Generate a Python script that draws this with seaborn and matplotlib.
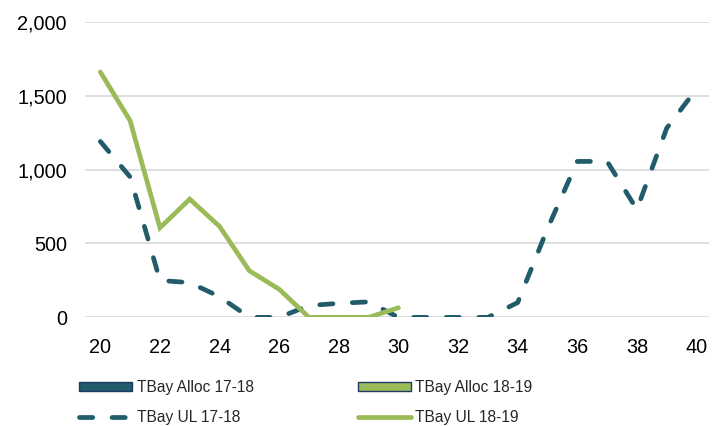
import numpy as np
import pandas as pd
import matplotlib
matplotlib.use("Agg")
import matplotlib.pyplot as plt
from matplotlib.patches import Patch
from matplotlib.lines import Line2D
import seaborn as sns

# Week numbers and usage-level series
weeks_17_18 = list(range(20, 41))
ul_17_18 = [1190, 950, 250, 235, 140, 0, 0, 80, 95, 105, 0,
            0, 0, 0, 100, 600, 1055, 1055, 730, 1280, 1545]
weeks_18_19 = list(range(20, 31))
ul_18_19 = [1660, 1330, 606, 800, 615, 315, 190, 0, 0, 0, 65]

y_ticks = [0, 500, 1000, 1500, 2000]
x_ticks = list(range(20, 41, 2))

labels = ["TBay Alloc 17-18", "TBay UL 17-18", "TBay Alloc 18-19", "TBay UL 18-19"]

teal = "#225B6A"
green = "#9BBB59"
navy = "#1F3864"

sns.set_theme(style="white")
plt.rcParams["font.family"] = ["Liberation Sans", "DejaVu Sans"]

df = pd.concat([
    pd.DataFrame({"week": weeks_17_18, "value": ul_17_18, "series": labels[1]}),
    pd.DataFrame({"week": weeks_18_19, "value": ul_18_19, "series": labels[3]}),
])

fig = plt.figure(figsize=(7.25, 4.26), dpi=100)
ax = fig.add_axes([0.117, 0.255, 0.861, 0.694])

ax.yaxis.grid(True, color="#D9D9D9", linewidth=1.2)
ax.set_axisbelow(True)

sns.lineplot(data=df[df.series == labels[1]], x="week", y="value", ax=ax,
             color=teal, linewidth=3.4, legend=False)
sns.lineplot(data=df[df.series == labels[3]], x="week", y="value", ax=ax,
             color=green, linewidth=3.4, legend=False)

dash_line = ax.lines[0]
dash_line.set_linestyle((0, (2.8, 4.1)))
dash_line.set_dash_capstyle("round")
ax.lines[1].set_solid_joinstyle("miter")

ax.set_xlim(19.48, 40.42)
ax.set_ylim(0, 2000)
ax.set_xticks(x_ticks)
ax.set_yticks(y_ticks)
ax.set_yticklabels([f"{v:,}" for v in y_ticks])
ax.tick_params(axis="both", length=0, labelsize=14.3, colors="black")
ax.tick_params(axis="y", pad=13)
ax.tick_params(axis="x", pad=15)
ax.set_xlabel("")
ax.set_ylabel("")
for s in ax.spines.values():
    s.set_visible(False)

handles = [
    Patch(facecolor=teal, edgecolor=navy, linewidth=1.0),
    Line2D([0], [0], color=teal, linewidth=3.4, linestyle=(0, (2.8, 4.1)),
           dash_capstyle="round"),
    Patch(facecolor=green, edgecolor=navy, linewidth=1.0),
    Line2D([0], [0], color=green, linewidth=3.4, solid_capstyle="round"),
]
fig.legend(handles, labels, ncol=2, loc="upper left",
           bbox_to_anchor=(0.109, 0.108), frameon=False, borderpad=0,
           borderaxespad=0, fontsize=11.2, handlelength=3.4,
           handleheight=0.6, handletextpad=0.3, columnspacing=6.7,
           labelspacing=0.95)

fig.savefig("out.png", dpi=100)
